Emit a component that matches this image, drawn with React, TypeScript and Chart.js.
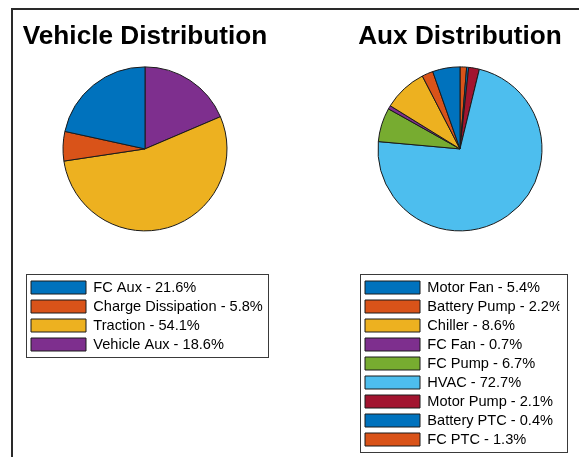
import React, { useEffect, useRef } from 'react';
import { Chart, registerables } from 'chart.js';

Chart.register(...registerables);

const vehicleCategories = ['FC Aux', 'Charge Dissipation', 'Traction', 'Vehicle Aux'];
const vehicleValues = [21.6, 5.8, 54.1, 18.6];
const vehicleColors = ['#0072BD', '#D95319', '#EDB120', '#7E2F8E'];

const auxCategories = ['Motor Fan', 'Battery Pump', 'Chiller', 'FC Fan', 'FC Pump', 'HVAC', 'Motor Pump', 'Battery PTC', 'FC PTC'];
const auxValues = [5.4, 2.2, 8.6, 0.7, 6.7, 72.7, 2.1, 0.4, 1.3];
const auxColors = ['#0072BD', '#D95319', '#EDB120', '#7E2F8E', '#77AC30', '#4DBEEE', '#A2142F', '#0072BD', '#D95319'];

const FONT = '"Liberation Sans", Arial, Helvetica, sans-serif';
const LEG_SIZE = 14.6;
const LEG_PAD = 4.4;
const BOX_W = 55;
const BOX_H = 13;

const legendFrame = {
  id: 'legendFrame',
  afterLayout(chart: any) {
    // let the title use more width than the padded layout box (keeps it centred)
    const t = chart.titleBlock;
    if (t) {
      t.left -= 30;
      t.right += 30;
    }
  },
  afterDraw(chart: any) {
    const lg = chart.legend;
    if (!lg || !lg.legendItems) return;
    const ctx = chart.ctx;
    ctx.save();
    ctx.font = `${LEG_SIZE}px ${FONT}`;
    let maxW = 0;
    lg.legendItems.forEach((it: any) => {
      maxW = Math.max(maxW, BOX_W + LEG_SIZE / 2 + ctx.measureText(it.text).width);
    });
    const n = lg.legendItems.length;
    const itemH = Math.max(LEG_SIZE, BOX_H);
    const x0 = lg.left + LEG_PAD;
    const y0 = lg.top + LEG_PAD;
    const left = Math.round(x0 - 5.5) + 0.5;
    const top = Math.round(y0 - 6) + 0.5;
    const right = Math.round(x0 + maxW + 5.5) + 0.5;
    const bottom = Math.round(y0 + (n - 1) * (itemH + LEG_PAD) + itemH + 5) + 0.5;
    ctx.strokeStyle = '#3a3a3a';
    ctx.lineWidth = 1;
    ctx.strokeRect(left, top, right - left, bottom - top);
    ctx.restore();
  },
};

type PieProps = {
  x: number;
  width: number;
  title: string;
  cats: string[];
  vals: number[];
  colors: string[];
  padL: number;
  padR: number;
  padB: number;
};

function PieChart({ x, width, title, cats, vals, colors, padL, padR, padB }: PieProps) {
  const ref = useRef<HTMLCanvasElement>(null);
  useEffect(() => {
    if (!ref.current) return;
    const labels = cats.map((c, i) => `${c} - ${vals[i].toFixed(1)}%`).reverse();
    const chart = new Chart(ref.current, {
      type: 'pie',
      data: {
        labels,
        datasets: [
          {
            data: [...vals].reverse(),
            backgroundColor: [...colors].reverse(),
            borderColor: '#1a1a1a',
            borderWidth: 1,
          },
        ],
      },
      options: {
        responsive: false,
        animation: false,
        radius: 82,
        layout: { padding: { left: padL, right: padR, top: 0, bottom: padB } },
        plugins: {
          tooltip: { enabled: false },
          title: {
            display: true,
            text: title,
            color: '#000',
            font: { family: FONT, size: 26.2, weight: 'bold', lineHeight: 1.2 },
            padding: { top: 21.24, bottom: -30.68 },
          },
          legend: {
            display: true,
            position: 'bottom',
            align: 'start',
            labels: {
              color: '#000',
              font: { family: FONT, size: LEG_SIZE },
              boxWidth: BOX_W,
              boxHeight: BOX_H,
              padding: LEG_PAD,
              sort: (a: any, b: any) => b.index - a.index,
            },
          },
        },
      } as any,
      plugins: [legendFrame],
    });
    return () => chart.destroy();
  }, []);
  return (
    <canvas
      ref={ref}
      width={width}
      height={457}
      style={{ position: 'absolute', left: x, top: 0, width, height: 457 }}
    />
  );
}

export default function App() {
  return (
    <div
      style={{
        position: 'fixed',
        left: 0,
        top: 0,
        width: 579,
        height: 457,
        background: '#fff',
        overflow: 'hidden',
      }}
    >
      <div
        style={{
          position: 'absolute',
          left: 11,
          top: 8,
          width: 600,
          height: 500,
          borderLeft: '2px solid #2a2a2a',
          borderTop: '2px solid #2a2a2a',
        }}
      />
      <PieChart
        x={0}
        width={290}
        title="Vehicle Distribution"
        cats={vehicleCategories}
        vals={vehicleValues}
        colors={vehicleColors}
        padL={26.6}
        padR={26.6}
        padB={95.2}
      />
      <PieChart
        x={290}
        width={289}
        title="Aux Distribution"
        cats={auxCategories}
        vals={auxValues}
        colors={auxColors}
        padL={70.6}
        padR={19.6}
        padB={0.2}
      />
    </div>
  );
}
